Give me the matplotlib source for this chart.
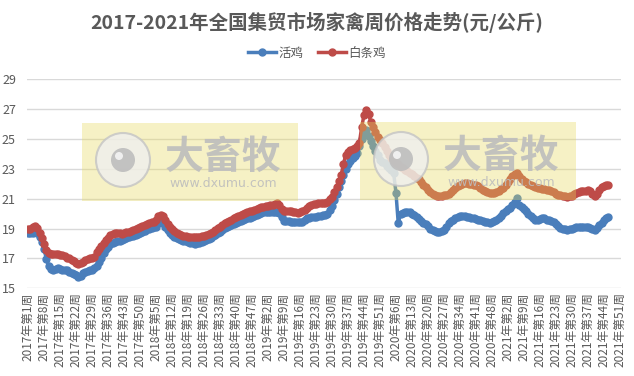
import numpy as np
import matplotlib.pyplot as plt
from matplotlib.patches import Rectangle, Ellipse

plt.rcParams['font.family'] = ['Noto Sans CJK SC', 'DejaVu Sans']

# weeks per year on the category axis
years = [2017, 2018, 2019, 2020, 2021]
weeks_in_year = [52, 52, 52, 53, 51]

# 白条鸡 (red), 元/公斤
red_2017 = [18.95, 19.0, 19.1, 19.18, 19.05, 18.7, 18.35, 17.95, 17.55, 17.35, 17.3, 17.3, 17.28,
            17.27, 17.25, 17.23, 17.15, 17.05, 17.0, 16.9, 16.8, 16.7, 16.63, 16.7, 16.78, 16.9,
            16.95, 17.0, 17.05, 17.1, 17.4, 17.65, 17.85, 18.05, 18.25, 18.4, 18.55, 18.62, 18.7,
            18.73, 18.68, 18.64, 18.68, 18.74, 18.8, 18.85, 18.9, 18.98, 19.02, 19.1, 19.18, 19.25]
red_2018 = [19.33, 19.38, 19.42, 19.46, 19.6, 19.85, 19.9, 19.84, 19.55, 19.3, 19.1, 18.95, 18.82,
            18.72, 18.65, 18.58, 18.52, 18.48, 18.46, 18.44, 18.42, 18.42, 18.42, 18.44, 18.48, 18.52,
            18.57, 18.65, 18.72, 18.8, 18.9, 19.02, 19.13, 19.25, 19.35, 19.45, 19.52, 19.6, 19.69,
            19.75, 19.82, 19.92, 20.0, 20.05, 20.1, 20.15, 20.2, 20.24, 20.3, 20.36, 20.42, 20.47]
red_2019 = [20.5, 20.53, 20.56, 20.58, 20.62, 20.73, 20.55, 20.3, 20.2, 20.2, 20.2, 20.15, 20.1,
            20.08, 20.07, 20.1, 20.15, 20.22, 20.35, 20.48, 20.58, 20.63, 20.67, 20.69, 20.69, 20.69,
            20.69, 20.8, 20.98, 21.13, 21.45, 21.8, 22.2, 22.6, 23.3, 23.95, 24.15, 24.25, 24.32,
            24.38, 24.55, 24.75, 25.8, 26.6, 26.95, 26.65, 26.16, 25.8, 25.45, 25.15, 24.95, 24.7]
red_2020 = [24.45, 24.2, 23.9, 23.7, 23.55, 23.4, 23.3, 23.15, 23.05, 22.95, 22.85, 22.75, 22.65,
            22.5, 22.4, 22.3, 22.1, 21.95, 21.8, 21.6, 21.45, 21.35, 21.25, 21.2, 21.15, 21.2,
            21.22, 21.25, 21.3, 21.45, 21.6, 21.75, 21.85, 21.95, 22.0, 22.04, 22.04, 22.02, 22.0,
            21.95, 21.92, 21.85, 21.72, 21.6, 21.5, 21.45, 21.4, 21.38, 21.4, 21.45, 21.55, 21.65,
            21.75]
red_2021 = [21.9, 22.1, 22.3, 22.55, 22.65, 22.75, 22.5, 22.3, 22.2, 22.1, 22.02, 21.95, 21.88,
            21.8, 21.75, 21.7, 21.65, 21.62, 21.6, 21.58, 21.5, 21.42, 21.35, 21.28, 21.22, 21.18,
            21.15, 21.13, 21.15, 21.2, 21.3, 21.4, 21.47, 21.5, 21.52, 21.55, 21.57, 21.5, 21.3,
            21.15, 21.35, 21.6, 21.8, 21.85, 21.9, 21.92]

# 活鸡 (blue), 元/公斤
blue_2017 = [18.73, 18.7, 18.72, 18.75, 18.7, 18.45, 18.12, 17.6, 16.95, 16.5, 16.3, 16.22, 16.3,
             16.34, 16.3, 16.25, 16.22, 16.2, 16.12, 16.05, 15.98, 15.88, 15.78, 15.85, 16.0, 16.08,
             16.15, 16.2, 16.25, 16.35, 16.5, 16.75, 17.05, 17.35, 17.6, 17.8, 17.95, 18.05, 18.12,
             18.15, 18.2, 18.23, 18.28, 18.35, 18.42, 18.47, 18.52, 18.58, 18.64, 18.68, 18.75, 18.85]
blue_2018 = [18.95, 19.0, 19.05, 19.1, 19.13, 19.4, 19.69, 19.4, 19.1, 18.9, 18.7, 18.55, 18.45,
             18.38, 18.3, 18.24, 18.2, 18.15, 18.1, 18.05, 18.02, 18.0, 18.02, 18.05, 18.1, 18.17,
             18.24, 18.32, 18.4, 18.48, 18.57, 18.68, 18.8, 18.92, 19.02, 19.1, 19.18, 19.25, 19.3,
             19.35, 19.42, 19.5, 19.58, 19.63, 19.69, 19.73, 19.78, 19.83, 19.9, 19.97, 20.03, 20.08]
blue_2019 = [20.1, 20.12, 20.13, 20.13, 20.13, 20.1, 20.02, 19.75, 19.53, 19.5, 19.48, 19.46, 19.46,
             19.45, 19.45, 19.46, 19.46, 19.55, 19.69, 19.72, 19.75, 19.78, 19.8, 19.83, 19.86, 19.88,
             19.91, 20.0, 20.24, 20.5, 20.91, 21.3, 21.8, 22.2, 22.59, 23.0, 23.35, 23.55, 23.7,
             23.85, 24.04, 24.5, 25.0, 25.38, 25.6, 25.2, 24.9, 24.5, 24.2, 23.9, 23.6, 23.45]
blue_2020 = [23.37, 23.2, 23.05, 22.9, 22.7, 21.4, 19.35, 20.0, 20.05, 20.1, 20.13, 20.1, 20.0,
             19.88, 19.8, 19.65, 19.5, 19.38, 19.28, 19.15, 19.0, 18.9, 18.82, 18.8, 18.8, 18.82,
             18.88, 19.1, 19.35, 19.5, 19.6, 19.7, 19.78, 19.83, 19.85, 19.82, 19.8, 19.75, 19.72,
             19.68, 19.62, 19.58, 19.55, 19.5, 19.45, 19.42, 19.4, 19.45, 19.5, 19.58, 19.7, 19.85,
             20.05]
blue_2021 = [20.2, 20.3, 20.4, 20.55, 20.75, 21.05, 20.6, 20.45, 20.3, 20.15, 20.0, 19.85, 19.7,
             19.57, 19.6, 19.65, 19.68, 19.69, 19.6, 19.55, 19.5, 19.45, 19.3, 19.15, 19.05, 19.0,
             18.95, 18.92, 18.95, 19.0, 19.05, 19.1, 19.13, 19.13, 19.13, 19.12, 19.1, 19.05, 18.98,
             18.92, 19.05, 19.25, 19.4, 19.55, 19.7, 19.8]

red = red_2017 + red_2018 + red_2019 + red_2020 + red_2021
blue = blue_2017 + blue_2018 + blue_2019 + blue_2020 + blue_2021

categories = [f'{y}年第{w}周' for y, n in zip(years, weeks_in_year) for w in range(1, n + 1)]

W, H = 634, 376
fig = plt.figure(figsize=(W / 100, H / 100), dpi=100)
ax = fig.add_axes([27 / W, 1 - 288.3 / H, 594 / W, 209 / H])

xr = np.arange(len(red))
xb = np.arange(len(blue))
ax.plot(xb, blue, color='#4A7EBB', lw=2.5, marker='o', ms=5, mec='#4A7EBB', label='活鸡', zorder=3)
ax.plot(xr, red, color='#BE4B48', lw=2.5, marker='o', ms=5, mec='#BE4B48', label='白条鸡', zorder=3)

ax.set_xlim(-0.5, len(categories) - 0.5)
ax.set_ylim(15, 29)
ax.set_yticks(np.arange(15, 30, 2))
ticks = np.arange(0, len(categories), 7)
ax.set_xticks(ticks)
ax.set_xticklabels([categories[i] for i in ticks], rotation=90, fontsize=8.5, color='#595959')
ax.tick_params(axis='y', labelsize=9, colors='#595959', length=0, pad=8)
ax.tick_params(axis='x', length=0, pad=3)
ax.grid(axis='y', color='#D9D9D9', lw=1)
ax.set_axisbelow(True)
for s in ax.spines.values():
    s.set_visible(False)

fig.text(0.5, 1 - 22 / H, '2017-2021年全国集贸市场家禽周价格走势(元/公斤)', ha='center', va='center',
         fontsize=14, fontweight='bold', color='#595959')
fig.legend(loc='center', bbox_to_anchor=(0.5, 1 - 53 / H), ncol=2, frameon=False, fontsize=9,
           handlelength=2.2, columnspacing=1.2, handletextpad=0.2, labelcolor='#595959')

# watermarks
for x0, y0 in [(82, 123), (360, 122)]:
    fig.add_artist(Rectangle((x0 / W, 1 - (y0 + 78) / H), 216 / W, 78 / H, transform=fig.transFigure,
                             facecolor='#E8D95A', alpha=0.35, edgecolor='none', zorder=5))
    cx, cy = x0 + 41, y0 + 37
    fig.add_artist(Ellipse((cx / W, 1 - cy / H), 54 / W, 54 / H, transform=fig.transFigure,
                           facecolor='#EFEFEF', edgecolor='#C4C4C4', lw=1.5, alpha=0.8, zorder=6))
    fig.add_artist(Ellipse((cx / W, 1 - cy / H), 24 / W, 24 / H, transform=fig.transFigure,
                           facecolor='#BDBDBD', edgecolor='none', alpha=0.9, zorder=6))
    fig.add_artist(Ellipse(((cx - 4) / W, 1 - (cy - 4) / H), 8 / W, 8 / H, transform=fig.transFigure,
                           facecolor='#EFEFEF', edgecolor='none', zorder=6))
    fig.text((x0 + 141) / W, 1 - (y0 + 34) / H, '大畜牧', ha='center', va='center', fontsize=28,
             fontweight='bold', color='#BDBDBD', alpha=0.9, zorder=6)
    fig.text((x0 + 141) / W, 1 - (y0 + 61) / H, 'www.dxumu.com', ha='center', va='center', fontsize=9,
             color='#BDBDBD', alpha=0.9, zorder=6, family='DejaVu Sans')

fig.savefig('out.png', dpi=100)
